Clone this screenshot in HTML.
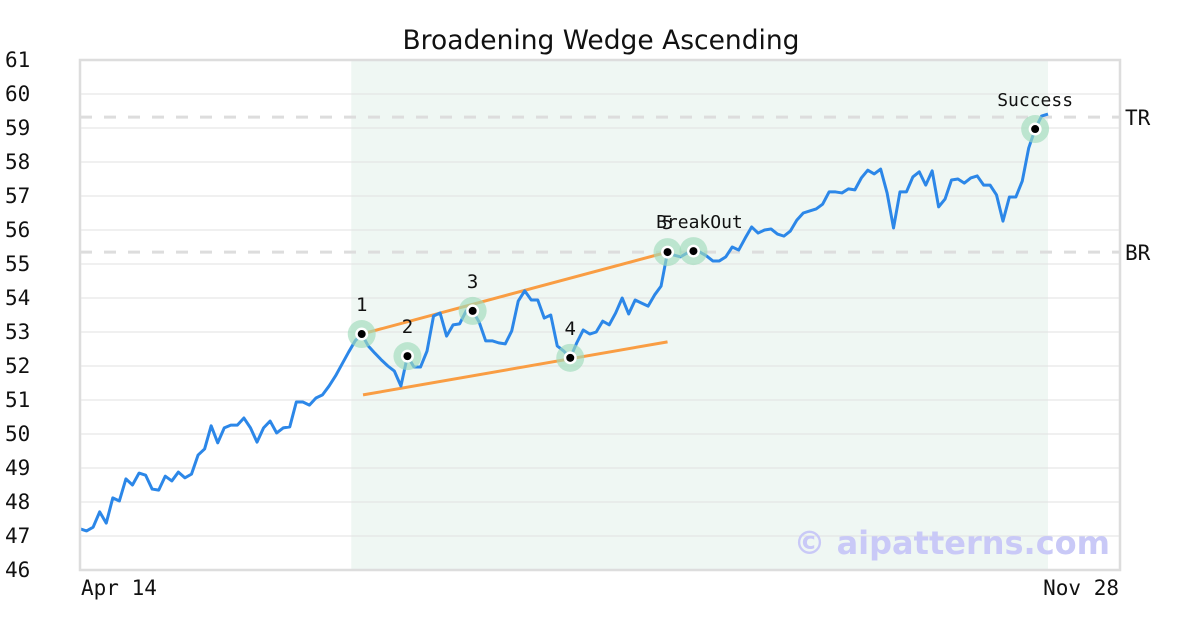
<!DOCTYPE html>
<html><head><meta charset="utf-8"><style>
html,body{margin:0;padding:0;background:#fff;width:1200px;height:630px;overflow:hidden}
svg text{font-family:"DejaVu Sans Mono","Liberation Mono",monospace}
</style></head><body>
<svg id="chart" width="1200" height="630" xmlns="http://www.w3.org/2000/svg">
<text x="601" y="49" text-anchor="middle" font-size="26.5" style="font-family:'DejaVu Sans','Liberation Sans',sans-serif" fill="#111">Broadening Wedge Ascending</text>
</svg>
<script>
const prices=[47.21,47.15,47.26,47.71,47.38,48.12,48.03,48.68,48.50,48.85,48.79,48.38,48.35,48.76,48.62,48.88,48.71,48.82,49.38,49.56,50.24,49.74,50.18,50.26,50.26,50.47,50.18,49.76,50.18,50.38,50.03,50.18,50.21,50.94,50.94,50.85,51.06,51.15,51.41,51.71,52.06,52.41,52.74,52.94,52.59,52.38,52.18,52.00,51.85,51.41,52.29,51.97,51.97,52.44,53.47,53.56,52.88,53.21,53.24,53.62,53.62,53.29,52.74,52.74,52.68,52.65,53.03,53.91,54.21,53.94,53.94,53.41,53.50,52.59,52.44,52.24,52.68,53.06,52.94,53.00,53.32,53.21,53.56,54.00,53.53,53.94,53.85,53.76,54.09,54.35,55.35,55.26,55.21,55.32,55.38,55.35,55.24,55.09,55.09,55.21,55.50,55.41,55.76,56.09,55.91,56.00,56.03,55.88,55.82,55.97,56.29,56.50,56.56,56.62,56.76,57.12,57.12,57.09,57.21,57.18,57.53,57.76,57.65,57.79,57.09,56.06,57.12,57.12,57.56,57.71,57.32,57.74,56.68,56.91,57.47,57.50,57.38,57.53,57.59,57.32,57.32,57.03,56.26,56.97,56.97,57.44,58.41,58.97,59.35,59.41];
const yTicks=[46,47,48,49,50,51,52,53,54,55,56,57,58,59,60,61];
const xTickLabels=["Apr 14","Nov 28"];
const markerIdx=[43,50,60,75,90,94,147];
const markerLabels=["1","2","3","4","5","BreakOut","Success"];
const upperLine=[[43,52.94],[90,55.35]];
const lowerLine=[[43.2,51.15],[90,52.71]];
const levels=[59.32,55.35];
const levelLabels=["TR","BR"];
const shadeRange=[41.4,149];

const L=80,R=1120,T=60,B=570,ymin=46,ymax=61,N=prices.length,xEnd=1048;
const X=i=>L+i*(xEnd-L)/(N-1)+3*Math.sin(Math.PI*i/(N-1));
const Y=v=>T+(ymax-v)*(B-T)/(ymax-ymin);
const svg=document.getElementById('chart');
const NS='http://www.w3.org/2000/svg';
function mk(tag,attrs,parent){const e=document.createElementNS(NS,tag);for(const k in attrs)e.setAttribute(k,attrs[k]);(parent||svg).appendChild(e);return e;}

let e=mk('rect',{x:L,y:T,width:R-L,height:B-T,fill:'#fff'});


e=mk('rect',{x:X(shadeRange[0]),y:T,width:X(shadeRange[1])-X(shadeRange[0]),height:B-T,fill:'#eff7f3'});


yTicks.forEach(t=>{
  if(t>ymin&&t<ymax){const g=mk('line',{x1:L,x2:R,y1:Y(t),y2:Y(t),stroke:'#e2e2e2','stroke-width':1});
  
  }
  const tx=mk('text',{x:5,y:Y(t)+7,'font-size':21,fill:'#111'});tx.textContent=t;
  
  
});
levels.forEach((lv,i)=>{
  const l=mk('line',{x1:L,x2:R,y1:Y(lv),y2:Y(lv),stroke:'#dddddd','stroke-width':3,'stroke-dasharray':'12,12'});
  
  
  const t=mk('text',{x:1125,y:Y(lv)+8,'font-size':21,fill:'#111'});t.textContent=levelLabels[i];
  
  
});
e=mk('text',{x:1110,y:554,'text-anchor':'end','font-size':32,'font-weight':'bold',fill:'#c9c9f7',style:"font-family:'DejaVu Sans','Liberation Sans',sans-serif"});
e.textContent='© aipatterns.com';


[upperLine,lowerLine].forEach((ln,k)=>{
  const l=mk('line',{x1:X(ln[0][0]),y1:Y(ln[0][1]),x2:X(ln[1][0]),y2:Y(ln[1][1]),stroke:'#f99d43','stroke-width':3});
  
  
});
const p=mk('polyline',{points:prices.map((v,i)=>X(i)+','+Y(v)).join(' '),fill:'none',stroke:'#2c87e8','stroke-width':3,'stroke-linejoin':'round'});


markerIdx.forEach((idx,k)=>{
  const cx=X(idx),cy=Y(prices[idx]);
  const h=mk('circle',{cx,cy,r:14,fill:'#9fdcbc','fill-opacity':0.65});
  
  
  const w=mk('circle',{cx,cy,r:6.5,fill:'#fff'});
  
  
  const d=mk('circle',{cx,cy,r:4,fill:'#000'});
  
  
  const lab=markerLabels[k];
  const t=mk('text',{x:lab==='BreakOut'?cx+6:cx,y:cy-23,'text-anchor':'middle','font-size':lab.length>1?18:19,fill:'#111'});
  t.textContent=lab;
  
  
});
e=mk('rect',{x:L,y:T,width:R-L,height:B-T,fill:'none',stroke:'#dddddd','stroke-width':2.5});


xTickLabels.forEach((s,i)=>{
  const t=mk('text',{x:i?1119:81,y:595,'text-anchor':i?'end':'start','font-size':21,fill:'#111'});t.textContent=s;
  
  
});
</script>
</body></html>
